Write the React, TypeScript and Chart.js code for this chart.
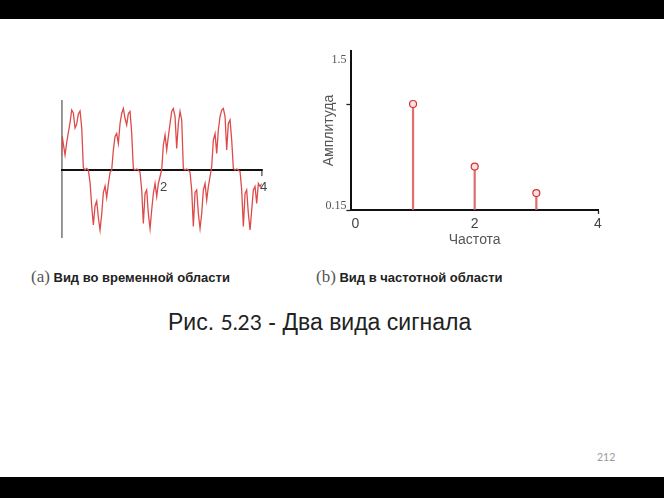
import { useEffect, useRef } from 'react';
import { Chart, registerables } from 'chart.js';

Chart.register(...registerables);

// ---- Data ----
// (a) time-domain signal: time samples and amplitudes
const timeT = [
  0, 0.01, 0.033, 0.067, 0.1, 0.133, 0.167, 0.2, 0.233, 0.267, 0.3, 0.333, 0.367, 0.4, 0.433, 0.467, 0.5, 0.533, 0.567, 0.6, 0.633, 0.667, 0.7, 0.733, 0.767, 0.8, 0.833, 0.867, 0.9, 0.933, 0.967,
  1, 1.033, 1.067, 1.1, 1.133, 1.167, 1.2, 1.233, 1.267, 1.3, 1.333, 1.367, 1.4, 1.433, 1.467, 1.5, 1.533, 1.567, 1.6, 1.633, 1.667, 1.7, 1.733, 1.767, 1.8, 1.833, 1.867, 1.9, 1.933, 1.967,
  2, 2.033, 2.067, 2.1, 2.133, 2.167, 2.2, 2.233, 2.267, 2.3, 2.333, 2.367, 2.4, 2.433, 2.467, 2.5, 2.533, 2.567, 2.6, 2.633, 2.667, 2.7, 2.733, 2.767, 2.8, 2.833, 2.867, 2.9, 2.933, 2.967,
  3, 3.033, 3.067, 3.1, 3.133, 3.167, 3.2, 3.233, 3.267, 3.3, 3.333, 3.367, 3.4, 3.433, 3.467, 3.5, 3.533, 3.567, 3.6, 3.633, 3.667, 3.7, 3.733, 3.767, 3.8, 3.833, 3.867, 3.9, 3.933, 3.967, 4,
];
const timeV = [
  0.28, 0.68, 0.52, 0.3, 0.55, 0.75, 0.95, 1.2, 1.14, 0.84, 0.92, 1.12, 1.18, 0.85, 0.05, 0.0, 0.03, 0.0, -0.25, -0.72, -1.1, -0.72, -0.62, -0.95, -1.2, -0.88, -0.45, -0.32, -0.55, -0.28, -0.05,
  0.0, 0.4, 0.67, 0.73, 0.53, 0.93, 1.13, 1.23, 1.03, 0.9, 1.13, 1.17, 0.73, 0.03, 0.0, 0.02, 0.0, -0.05, -0.4, -1.07, -0.47, -0.4, -0.87, -1.17, -0.8, -0.47, -0.27, -0.53, -0.27, -0.13,
  0.0, 0.5, 0.7, 0.4, 0.67, 0.93, 1.17, 1.23, 1.07, 0.43, 0.93, 1.17, 1.0, 0.03, 0.0, 0.02, 0.0, -0.05, -0.4, -1.13, -0.45, -0.4, -0.87, -1.17, -0.87, -0.4, -0.27, -0.6, -0.33, -0.13,
  0.07, 0.6, 0.73, 0.33, 0.8, 1.07, 1.2, 1.23, 1.07, 0.4, 0.93, 1.0, 0.6, 0.03, 0.0, 0.02, 0.0, -0.03, -0.4, -1.13, -0.47, -0.4, -0.87, -1.2, -0.8, -0.4, -0.33, -0.67, -0.27, -0.33, -0.27,
];
const timeTicks = [0, 2, 4];

// (b) frequency-domain spectrum
const freqX = [1, 2, 3];
const freqAmp = [1.0, 0.41, 0.16];
const freqTicks = [0, 2, 4];
const ampTicks = [0, 1, 1.5];
const ampTickLabels: (string | string[])[] = ['0.15', '', ['', '1.5']];

const SANS = "'Liberation Sans', Arial, sans-serif";
const SERIF = "'Liberation Serif', 'Times New Roman', serif";

function TimeChart() {
  const ref = useRef<HTMLCanvasElement | null>(null);
  useEffect(() => {
    if (!ref.current) return;
    const chart = new Chart(ref.current, {
      type: 'line',
      data: {
        datasets: [
          {
            data: timeT.map((t, i) => ({ x: t, y: timeV[i] })),
            borderColor: '#dd4a4a',
            borderWidth: 1.3,
            pointRadius: 0,
            tension: 0,
            fill: false,
          },
        ],
      },
      options: {
        animation: false,
        responsive: true,
        maintainAspectRatio: false,
        layout: { padding: { left: 21.7, right: 18.3, top: 10, bottom: 12 } },
        plugins: { legend: { display: false }, tooltip: { enabled: false } },
        scales: {
          x: {
            type: 'linear',
            min: 0,
            max: 4,
            position: { y: 0 } as any,
            afterBuildTicks: (axis: any) => {
              axis.ticks = timeTicks.map((v) => ({ value: v }));
            },
            border: { display: true, color: '#111', width: 2 },
            grid: {
              drawOnChartArea: true,
              color: (ctx: any) => (ctx.tick && ctx.tick.value === 0 ? '#8c8c8c' : 'rgba(0,0,0,0)'),
              lineWidth: 1.8,
              tickLength: 5,
              tickWidth: 1.2,
              tickColor: (ctx: any) => (ctx.tick && ctx.tick.value === 4 ? '#444' : 'rgba(0,0,0,0)'),
            },
            ticks: {
              autoSkip: false,
              maxRotation: 0,
              padding: 5,
              labelOffset: 2,
              color: '#444',
              font: { family: SANS, size: 13, lineHeight: 1.2 },
              callback: (v: any) => (v === 0 ? '' : String(v)),
            },
          },
          y: { display: false, min: -1.36, max: 1.4 },
        },
      },
    });
    return () => chart.destroy();
  }, []);
  return (
    <div style={{ position: 'absolute', left: 40, top: 90, width: 240, height: 160 }}>
      <canvas ref={ref} />
    </div>
  );
}

function FreqChart() {
  const ref = useRef<HTMLCanvasElement | null>(null);
  useEffect(() => {
    if (!ref.current) return;
    const chart = new Chart(ref.current, {
      type: 'bar',
      data: {
        datasets: [
          {
            type: 'line',
            data: freqX.map((f, i) => ({ x: f, y: freqAmp[i] })),
            showLine: false,
            pointStyle: 'circle',
            pointRadius: 3.5,
            pointBorderWidth: 1.2,
            pointBorderColor: '#d03535',
            pointBackgroundColor: '#fbe0e0',
            order: 0,
          } as any,
          {
            type: 'bar',
            data: freqX.map((f, i) => ({ x: f, y: freqAmp[i] })),
            backgroundColor: '#e07070',
            barThickness: 1.6,
            order: 1,
          } as any,
        ],
      },
      options: {
        animation: false,
        responsive: true,
        maintainAspectRatio: false,
        layout: { padding: { left: 21.6, right: 22, top: 0, bottom: 6.2 } },
        plugins: { legend: { display: false }, tooltip: { enabled: false } },
        scales: {
          x: {
            type: 'linear',
            min: 0,
            max: 4,
            offset: false,
            afterBuildTicks: (axis: any) => {
              axis.ticks = freqTicks.map((v) => ({ value: v }));
            },
            border: { display: true, color: '#111', width: 2 },
            grid: {
              drawOnChartArea: false,
              offset: false,
              tickLength: 4,
              tickWidth: 1.3,
              color: (ctx: any) => (ctx.tick && ctx.tick.value === 4 ? '#222' : 'rgba(0,0,0,0)'),
            },
            ticks: {
              autoSkip: false,
              maxRotation: 0,
              padding: 3,
              color: '#444',
              font: { family: SANS, size: 14, lineHeight: 1.0 },
              callback: (v: any) => (v === 0 ? '  0' : String(v)),
            },
            title: {
              display: true,
              text: 'Частота',
              color: '#555',
              font: { family: SANS, size: 14, lineHeight: 1.2 },
              padding: { top: -2, bottom: 0 },
            },
          },
          y: {
            type: 'linear',
            min: 0,
            max: 1.5,
            afterBuildTicks: (axis: any) => {
              axis.ticks = ampTicks.map((v) => ({ value: v }));
            },
            border: { display: true, color: '#111', width: 2 },
            grid: {
              drawOnChartArea: false,
              tickLength: 5,
              tickWidth: 1.3,
              color: (ctx: any) => (ctx.tick && ctx.tick.value === 1.5 ? 'rgba(0,0,0,0)' : '#222'),
            },
            ticks: {
              autoSkip: false,
              padding: 0,
              labelOffset: -4,
              color: '#555',
              font: { family: SERIF, size: 12, lineHeight: '26px' as any },
              callback: (v: any) => {
                const i = ampTicks.indexOf(Number(v));
                return i >= 0 ? ampTickLabels[i] : '';
              },
            },
            title: {
              display: true,
              text: 'Амплитуда',
              color: '#555',
              font: { family: SANS, size: 14, lineHeight: 1.2 },
              padding: { top: -1, bottom: -12 },
            },
          },
        },
      },
    });
    return () => chart.destroy();
  }, []);
  return (
    <div style={{ position: 'absolute', left: 300, top: 25, width: 320, height: 230 }}>
      <canvas ref={ref} />
    </div>
  );
}

export default function App() {
  return (
    <div
      style={{
        position: 'fixed',
        left: 0,
        top: 0,
        width: 664,
        height: 498,
        background: '#fff',
        overflow: 'hidden',
        fontFamily: SANS,
      }}
    >
      <div style={{ position: 'absolute', left: 0, top: 0, width: 664, height: 19, background: '#000' }} />
      <div style={{ position: 'absolute', left: 0, top: 477, width: 664, height: 21, background: '#000' }} />
      <TimeChart />
      <FreqChart />
      <div style={{ position: 'absolute', left: 31, top: 267, lineHeight: '20px', whiteSpace: 'nowrap', color: '#222' }}>
        <span style={{ fontFamily: SERIF, fontSize: 17, color: '#555' }}>(a)</span>
        <span style={{ fontFamily: SANS, fontSize: 13, fontWeight: 'bold' }}> Вид во временной области</span>
      </div>
      <div style={{ position: 'absolute', left: 316, top: 267, lineHeight: '20px', whiteSpace: 'nowrap', color: '#222' }}>
        <span style={{ fontFamily: SERIF, fontSize: 17, color: '#555' }}>(b)</span>
        <span style={{ fontFamily: SANS, fontSize: 13, fontWeight: 'bold' }}> Вид в частотной области</span>
      </div>
      <div style={{ position: 'absolute', left: 168, top: 308, lineHeight: '28px', fontSize: 23, whiteSpace: 'nowrap', color: '#222' }}>
        Рис. <span style={{ fontFamily: "Lato, 'Open Sans', sans-serif", fontSize: 21 }}>5.23</span> - Два вида сигнала
      </div>
      <div style={{ position: 'absolute', left: 597, top: 450, lineHeight: '14px', fontSize: 10.5, color: '#9a9a9a', fontFamily: "Lato, sans-serif" }}>
        212
      </div>
    </div>
  );
}
